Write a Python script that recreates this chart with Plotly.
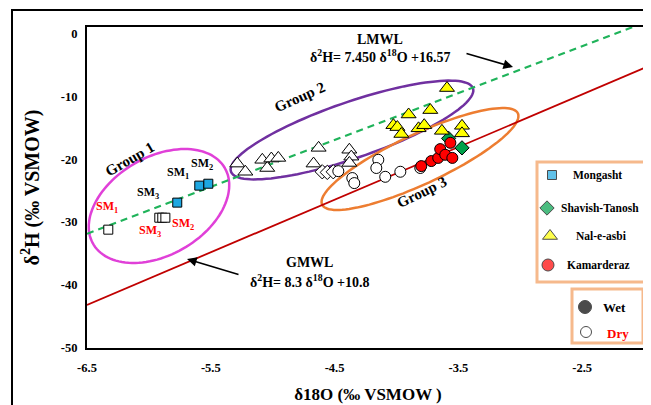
import numpy as np
import plotly.graph_objects as go

# ---------------- data ----------------
mongasht_wet_x = [-5.771, -5.593, -5.520]
mongasht_wet_y = [-26.9, -24.2, -23.9]
mongasht_dry_x = [-6.328, -5.916, -5.892, -5.867]
mongasht_dry_y = [-31.2, -29.3, -29.3, -29.3]

shavish_wet_x = [-3.579, -3.471]
shavish_wet_y = [-16.7, -18.2]
shavish_dry_x = [-4.600, -4.559, -4.511]
shavish_dry_y = [-22.0, -22.1, -22.0]

nal_wet_x = [-3.592, -3.727, -3.902, -4.025, -3.993, -3.961, -3.822, -3.776, -3.633, -3.471, -3.471]
nal_wet_y = [-8.7, -12.2, -12.9, -14.6, -14.9, -16.0, -15.1, -14.6, -15.5, -14.7, -15.9]
nal_dry_x = [-5.286, -5.221, -5.084, -5.044, -5.011, -4.955, -4.629, -4.670, -4.381, -4.365, -4.381]
nal_dry_y = [-20.7, -22.0, -20.1, -21.4, -19.9, -19.8, -18.2, -20.7, -18.5, -19.6, -20.6]

kam_wet_x = [-3.800, -3.719, -3.663, -3.647, -3.606, -3.549, -3.565]
kam_wet_y = [-21.1, -20.3, -19.8, -18.4, -19.3, -19.8, -17.4]
kam_dry_x = [-4.470, -4.357, -4.341, -4.147, -4.163, -4.091, -3.969, -3.808]
kam_dry_y = [-21.9, -23.0, -23.8, -20.1, -21.4, -22.8, -22.0, -21.4]

lmwl_x = [-6.5, -2.09]
lmwl_y = [-31.86, 1.0]
gmwl_x = [-6.5, -1.96]
gmwl_y = [-43.15, -5.2]

x_ticks = [-6.5, -5.5, -4.5, -3.5, -2.5]
y_ticks = [-50, -40, -30, -20, -10, 0]

site_names = ["Mongasht", "Shavish-Tanosh", "Nal-e-asbi", "Kamarderaz"]

# ---------------- layout constants ----------------
OFF = 8                      # page body margin around the figure
PX0, PX1 = 87, 649           # plot area in page pixels
PY0, PY1 = 348, 27
W, H = 651 - OFF, 405 - OFF
L, T = PX0 - OFF, PY1 - OFF
R = W - (PX1 - OFF)
B = H - (PY0 - OFF)
X_MIN = -6.5
X_MAX = X_MIN + (PX1 - PX0) / 123.8
FONT = "Liberation Serif"

COL_BLUE = "#1ea7e1"
COL_GREEN = "#00a14b"
COL_YELLOW = "#ffff00"
COL_RED = "#ff0000"
COL_PEACH = "#f6b98c"

fig = go.Figure()

# reference lines
fig.add_trace(go.Scatter(x=gmwl_x, y=gmwl_y, mode="lines",
                         line=dict(color="#c00000", width=1.8), showlegend=False, hoverinfo="skip"))
fig.add_trace(go.Scatter(x=lmwl_x, y=lmwl_y, mode="lines",
                         line=dict(color="#1fb35a", width=2.2, dash="7px,5px"),
                         showlegend=False, hoverinfo="skip"))

styles = {
    "Mongasht": dict(symbol="square", size=9, color=COL_BLUE),
    "Shavish-Tanosh": dict(symbol="diamond", size=11, color=COL_GREEN),
    "Nal-e-asbi": dict(symbol="triangle-up", size=13, color=COL_YELLOW),
    "Kamarderaz": dict(symbol="circle", size=11, color=COL_RED),
}
series = [
    ("Mongasht", mongasht_dry_x, mongasht_dry_y, mongasht_wet_x, mongasht_wet_y),
    ("Shavish-Tanosh", shavish_dry_x, shavish_dry_y, shavish_wet_x, shavish_wet_y),
    ("Nal-e-asbi", nal_dry_x, nal_dry_y, nal_wet_x, nal_wet_y),
    ("Kamarderaz", kam_dry_x, kam_dry_y, kam_wet_x, kam_wet_y),
]
for name, dx, dy, wx, wy in series:
    st = styles[name]
    fig.add_trace(go.Scatter(x=dx, y=dy, mode="markers", name=name + " (dry)",
                             marker=dict(symbol=st["symbol"], size=st["size"], color="white",
                                         line=dict(color="black", width=1)),
                             showlegend=False))
for name, dx, dy, wx, wy in series:
    st = styles[name]
    fig.add_trace(go.Scatter(x=wx, y=wy, mode="markers", name=name + " (wet)",
                             marker=dict(symbol=st["symbol"], size=st["size"], color=st["color"],
                                         line=dict(color="black", width=1)),
                             showlegend=False))

# ---------------- custom legend (page-pixel overlay axes) ----------------
leg_items = [  # (name, swatch px, swatch py, text px, text py)
    ("Mongasht", 552, 175, 597, 175),
    ("Shavish-Tanosh", 547, 208, 600, 208),
    ("Nal-e-asbi", 550, 236, 601, 236),
    ("Kamarderaz", 548, 265, 598, 265),
]
fig.add_trace(go.Scatter(
    x=[it[1] for it in leg_items], y=[it[2] for it in leg_items], mode="markers",
    xaxis="x2", yaxis="y2", showlegend=False, hoverinfo="skip",
    marker=dict(symbol=[styles[it[0]]["symbol"] for it in leg_items],
                size=[styles[it[0]]["size"] + (1 if it[0] == "Kamarderaz" else 0) for it in leg_items],
                color=[styles[it[0]]["color"] for it in leg_items],
                line=dict(color="black", width=1))))
fig.add_trace(go.Scatter(
    x=[585, 586], y=[307, 332], mode="markers", xaxis="x2", yaxis="y2",
    showlegend=False, hoverinfo="skip",
    marker=dict(symbol="circle", size=[13, 11], color=["black", "white"],
                line=dict(color="black", width=1))))

annotations = []
for name, sx, sy, tx, ty in leg_items:
    annotations.append(dict(x=tx, y=ty, xref="x2", yref="y2", text=name, showarrow=False,
                            font=dict(family=FONT, size=11.5, color="black", weight="bold")))
annotations.append(dict(x=614, y=307, xref="x2", yref="y2", text="Wet", showarrow=False,
                        font=dict(family=FONT, size=13, color="black", weight="bold")))
annotations.append(dict(x=618, y=333, xref="x2", yref="y2", text="Dry", showarrow=False,
                        font=dict(family=FONT, size=13, color="red", weight="bold")))


def txt(x, y, s, size=13, color="black", angle=0):
    annotations.append(dict(x=x, y=y, xref="x2", yref="y2", text=s, showarrow=False,
                            textangle=angle,
                            font=dict(family=FONT, size=size, color=color, weight="bold")))


txt(380, 39, "LMWL", 14)
txt(380, 56, "δ<sup>2</sup>H= 7.450 δ<sup>18</sup>O +16.57", 14)
txt(309, 262, "GMWL", 14)
txt(310, 281, "δ<sup>2</sup>H= 8.3 δ<sup>18</sup>O +10.8", 14)
txt(130, 159, "Group 1", 15, angle=-30)
txt(300, 97, "Group 2", 15, angle=-24)
txt(422, 192, "Group 3", 15, angle=-26)
txt(202, 164, "SM<sub>2</sub>", 12)
txt(178, 173, "SM<sub>1</sub>", 12)
txt(148, 193, "SM<sub>3</sub>", 12)
txt(107, 207, "SM<sub>1</sub>", 12, COL_RED)
txt(150, 231, "SM<sub>3</sub>", 12, COL_RED)
txt(183, 224, "SM<sub>2</sub>", 12, COL_RED)

# arrows
annotations.append(dict(x=513, y=67, ax=465, ay=53, xref="x2", yref="y2", axref="x2", ayref="y2",
                        text="", showarrow=True, arrowhead=2, arrowsize=1.2, arrowwidth=1.6,
                        arrowcolor="black"))
annotations.append(dict(x=187, y=259, ax=240, ay=275, xref="x2", yref="y2", axref="x2", ayref="y2",
                        text="", showarrow=True, arrowhead=2, arrowsize=1.2, arrowwidth=1.6,
                        arrowcolor="black"))


# ---------------- shapes ----------------
def ellipse_path(cx, cy, a, b, ang_deg, n=120):
    t = np.linspace(0, 2 * np.pi, n)
    th = np.deg2rad(ang_deg)
    ex = a * np.cos(t)
    ey = b * np.sin(t)
    px = cx + ex * np.cos(th) + ey * np.sin(th)
    py = cy - ex * np.sin(th) + ey * np.cos(th)
    pts = " L ".join(f"{x:.1f},{y:.1f}" for x, y in zip(px, py))
    return "M " + pts + " Z"


shapes = [
    dict(type="path", xref="x2", yref="y2", path=ellipse_path(159, 206, 76, 49, 30),
         line=dict(color="#e040d8", width=2.5), layer="below"),
    dict(type="path", xref="x2", yref="y2", path=ellipse_path(352, 130, 128, 28, 19),
         line=dict(color="#7030a0", width=2.5), layer="below"),
    dict(type="path", xref="x2", yref="y2", path=ellipse_path(420, 159, 108, 25, 25),
         line=dict(color="#ed7d31", width=2.5), layer="below"),
    # legend boxes
    dict(type="rect", xref="x2", yref="y2", x0=537, x1=646, y0=162, y1=282,
         line=dict(color=COL_PEACH, width=3), fillcolor="white", layer="below"),
    dict(type="rect", xref="x2", yref="y2", x0=572, x1=643, y0=289, y1=343,
         line=dict(color=COL_PEACH, width=3), fillcolor="white", layer="below"),
    # outer frame
    dict(type="rect", xref="paper", yref="paper",
         x0=(12 - PX0) / (PX1 - PX0), x1=1.1,
         y0=-0.4, y1=(PY0 - 10) / (PY0 - PY1),
         line=dict(color="black", width=2)),
]

axis_common = dict(showgrid=False, zeroline=False, showline=True, mirror=True,
                   linecolor="black", linewidth=2, ticks="",
                   tickfont=dict(family=FONT, size=12.5, color="black", weight="bold"))

fig.update_layout(
    width=W, height=H,
    margin=dict(l=L, r=R, t=T, b=B, pad=0),
    paper_bgcolor="white", plot_bgcolor="white",
    showlegend=False,
    xaxis=dict(range=[X_MIN, X_MAX], tickvals=x_ticks, ticktext=[f"{v:g}" for v in x_ticks],
               ticklabelstandoff=7, automargin=False,
               title=dict(text="δ18O (‰ VSMOW )", standoff=14,
                          font=dict(family=FONT, size=17, color="black", weight="bold")),
               **axis_common),
    yaxis=dict(range=[-50, 1], tickvals=y_ticks, ticktext=[f"{v:g}" for v in y_ticks],
               ticklabelstandoff=5, automargin=False,
               title=dict(text="δ<sup>2</sup>H (‰ VSMOW)", standoff=16,
                          font=dict(family=FONT, size=20, color="black", weight="bold")),
               **axis_common),
    xaxis2=dict(overlaying="x", range=[PX0, PX1], visible=False, fixedrange=True),
    yaxis2=dict(overlaying="y", range=[PY0, PY1], visible=False, fixedrange=True),
    annotations=annotations,
    shapes=shapes,
)

fig.write_html("out.html")
